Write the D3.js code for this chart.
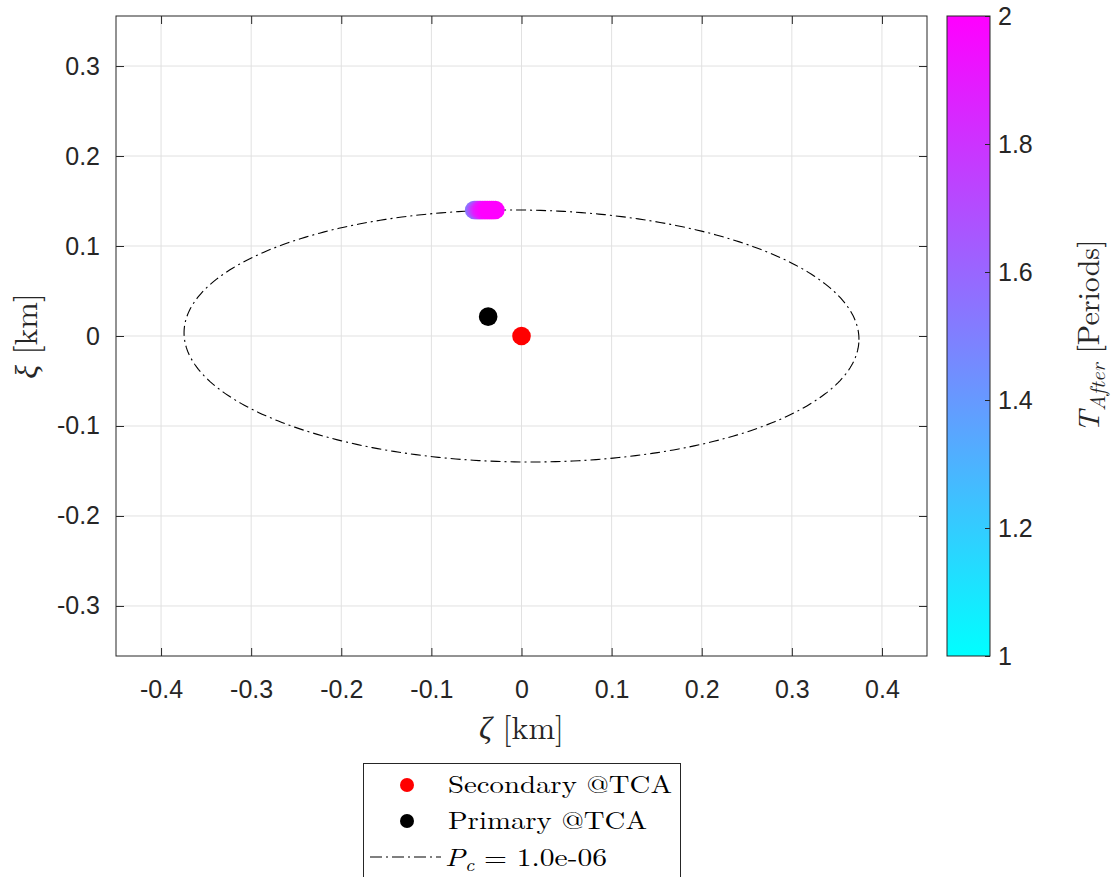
<!DOCTYPE html>
<html>
<head>
<meta charset="utf-8">
<script src="https://cdn.jsdelivr.net/npm/d3@7"></script>
<style>
  html, body { margin: 0; padding: 0; background: #fff; }
  svg { display: block; }
  .tick text { font-family: "Liberation Sans", Arial, sans-serif; }
</style>
</head>
<body>
<svg id="chart" width="1117" height="877"></svg>
<script>
// ---- data ----
const xTicks = [-0.4, -0.3, -0.2, -0.1, 0, 0.1, 0.2, 0.3, 0.4];
const yTicks = [-0.3, -0.2, -0.1, 0, 0.1, 0.2, 0.3];
const cbTicks = [1, 1.2, 1.4, 1.6, 1.8, 2];

// secondary and primary positions at TCA [km]
const secondary = [0, 0];
const primary = [-0.037, 0.0215];

// encounter positions after manoeuvre, coloured by time after (periods)
const afterZeta = [-0.0525, -0.0505, -0.0487, -0.0470, -0.0452, -0.0435, -0.0415, -0.0395, -0.0375, -0.0355, -0.0335, -0.0315, -0.0290];
const afterXi   = [0.1400, 0.1400, 0.1400, 0.1400, 0.1400, 0.1400, 0.1400, 0.1400, 0.1400, 0.1400, 0.1400, 0.1400, 0.1400];
const afterT    = [1.55, 1.63, 1.71, 1.79, 1.86, 1.91, 1.95, 1.97, 1.99, 2.0, 2.0, 2.0, 2.0];

// Pc = 1e-6 contour: ellipse semi-axes [km] and tilt [rad]
const contourSemiMajor = 0.3745;
const contourSemiMinor = 0.1400;
const contourTilt = -0.011;
const contourCenter = [0, 0];

// ---- layout ----
const svg = d3.select("#chart");
const plot = { left: 116, right: 927, top: 16, bottom: 656 };
const x = d3.scaleLinear().domain([-0.45, 0.45]).range([plot.left, plot.right]);
const y = d3.scaleLinear().domain([-0.3556, 0.3556]).range([plot.bottom, plot.top]);
const color = d3.scaleLinear().domain([1, 2]).range(["#00ffff", "#ff00ff"]);

const axisColor = "#262626";
const gridColor = "#e1e1e1";
const tickFont = "25px";

// grid
const grid = svg.append("g");
grid.selectAll("line.vx").data(xTicks).join("line")
  .attr("x1", d => x(d)).attr("x2", d => x(d))
  .attr("y1", plot.top).attr("y2", plot.bottom)
  .attr("stroke", gridColor).attr("stroke-width", 1);
grid.selectAll("line.hy").data(yTicks).join("line")
  .attr("x1", plot.left).attr("x2", plot.right)
  .attr("y1", d => y(d)).attr("y2", d => y(d))
  .attr("stroke", gridColor).attr("stroke-width", 1);

// axes (ticks point inwards)
const fmt = d => d === 0 ? "0" : d3.format(".1f")(d).replace("−", "-");
const xAxis = svg.append("g").attr("transform", `translate(0,${plot.bottom})`)
  .call(d3.axisBottom(x).tickValues(xTicks).tickFormat(fmt).tickSizeInner(-8).tickSizeOuter(0).tickPadding(24));
const xAxisTop = svg.append("g").attr("transform", `translate(0,${plot.top})`)
  .call(d3.axisTop(x).tickValues(xTicks).tickFormat("").tickSizeInner(-8).tickSizeOuter(0));
const yAxis = svg.append("g").attr("transform", `translate(${plot.left},0)`)
  .call(d3.axisLeft(y).tickValues(yTicks).tickFormat(fmt).tickSizeInner(-8).tickSizeOuter(0).tickPadding(16));
const yAxisRight = svg.append("g").attr("transform", `translate(${plot.right},0)`)
  .call(d3.axisRight(y).tickValues(yTicks).tickFormat("").tickSizeInner(-8).tickSizeOuter(0));
[xAxis, xAxisTop, yAxis, yAxisRight].forEach(g => {
  g.select(".domain").remove();
  g.selectAll(".tick line").attr("stroke", axisColor);
  g.selectAll(".tick text").attr("fill", axisColor).style("font-size", tickFont);
});

// contour ellipse
const nPts = 361;
const ellipse = d3.range(nPts).map(i => {
  const t = 2 * Math.PI * i / (nPts - 1);
  const ex = contourSemiMajor * Math.cos(t), ey = contourSemiMinor * Math.sin(t);
  return [
    contourCenter[0] + ex * Math.cos(contourTilt) - ey * Math.sin(contourTilt),
    contourCenter[1] + ex * Math.sin(contourTilt) + ey * Math.cos(contourTilt)
  ];
});
const dashDot = "10,4,2,4";
svg.append("path")
  .datum(ellipse)
  .attr("d", d3.line().x(d => x(d[0])).y(d => y(d[1])))
  .attr("fill", "none").attr("stroke", "#000").attr("stroke-width", 1.1)
  .attr("stroke-dasharray", dashDot);

// markers
const markerR = 9.3;
svg.append("g").selectAll("circle").data(d3.range(afterT.length)).join("circle")
  .attr("cx", i => x(afterZeta[i])).attr("cy", i => y(afterXi[i]))
  .attr("r", markerR).attr("fill", i => color(afterT[i]));
svg.append("circle").attr("cx", x(primary[0])).attr("cy", y(primary[1])).attr("r", markerR).attr("fill", "#000");
svg.append("circle").attr("cx", x(secondary[0])).attr("cy", y(secondary[1])).attr("r", markerR).attr("fill", "#ff0000");

// box
svg.append("rect")
  .attr("x", plot.left).attr("y", plot.top)
  .attr("width", plot.right - plot.left).attr("height", plot.bottom - plot.top)
  .attr("fill", "none").attr("stroke", axisColor).attr("stroke-width", 1);

// axis labels
const serif = "'Latin Modern Roman', 'CMU Serif', 'Liberation Serif', 'DejaVu Serif', serif";
const xl = svg.append("text").attr("x", x(0)).attr("y", 739)
  .attr("text-anchor", "middle").attr("font-family", serif).attr("font-size", 32).attr("fill", "#262626");
xl.append("tspan").attr("font-style", "italic").text("ζ");
xl.append("tspan").text(" [km]");

const yl = svg.append("text").attr("transform", `translate(37,${y(0)}) rotate(-90)`)
  .attr("text-anchor", "middle").attr("font-family", serif).attr("font-size", 32).attr("fill", "#262626");
yl.append("tspan").attr("font-style", "italic").text("ξ");
yl.append("tspan").text(" [km]");

// colorbar
const cb = { left: 947, right: 990, top: 16, bottom: 656 };
const cy = d3.scaleLinear().domain([1, 2]).range([cb.bottom, cb.top]);
const defs = svg.append("defs");
const grad = defs.append("linearGradient").attr("id", "cbGrad")
  .attr("x1", 0).attr("y1", 1).attr("x2", 0).attr("y2", 0);
grad.append("stop").attr("offset", 0).attr("stop-color", color(1));
grad.append("stop").attr("offset", 1).attr("stop-color", color(2));
svg.append("rect").attr("x", cb.left).attr("y", cb.top)
  .attr("width", cb.right - cb.left).attr("height", cb.bottom - cb.top)
  .attr("fill", "url(#cbGrad)").attr("stroke", axisColor).attr("stroke-width", 1);
const cbAxis = svg.append("g").attr("transform", `translate(${cb.right},0)`)
  .call(d3.axisRight(cy).tickValues(cbTicks).tickFormat(d => d3.format("")(+d.toFixed(1))).tickSizeInner(-5).tickSizeOuter(0).tickPadding(8));
cbAxis.select(".domain").remove();
cbAxis.selectAll(".tick line").attr("stroke", axisColor);
cbAxis.selectAll(".tick text").attr("fill", axisColor).style("font-size", tickFont);

const cl = svg.append("text").attr("transform", `translate(1099,${cy(1.5)}) rotate(-90)`)
  .attr("text-anchor", "middle").attr("font-family", serif).attr("font-size", 30).attr("fill", "#262626");
cl.append("tspan").attr("font-style", "italic").text("T");
cl.append("tspan").attr("font-style", "italic").attr("font-size", 21).attr("dy", 6).text("After");
cl.append("tspan").attr("dy", -6).text(" [Periods]");

// legend
const lg = svg.append("g");
lg.append("rect").attr("x", 363.5).attr("y", 763.5).attr("width", 317).attr("height", 130)
  .attr("fill", "#fff").attr("stroke", axisColor).attr("stroke-width", 1);
const legendRows = [
  { fill: "#ff0000", label: "Secondary @TCA", yy: 785, len: 224 },
  { fill: "#000000", label: "Primary @TCA", yy: 821, len: 199 },
];
legendRows.forEach(r => {
  lg.append("circle").attr("cx", 407).attr("cy", r.yy).attr("r", 7).attr("fill", r.fill);
  lg.append("text").attr("x", 448).attr("y", r.yy + 8)
    .attr("font-family", serif).attr("font-size", 25).attr("fill", "#000")
    .attr("textLength", r.len).attr("lengthAdjust", "spacingAndGlyphs").text(r.label);
});
lg.append("line").attr("x1", 370).attr("x2", 441).attr("y1", 857).attr("y2", 857)
  .attr("stroke", "#000").attr("stroke-width", 1.1).attr("stroke-dasharray", "12,4,2,4");
const pc = lg.append("text").attr("x", 445).attr("y", 866)
  .attr("font-family", serif).attr("font-size", 25).attr("fill", "#000")
  .attr("textLength", 162).attr("lengthAdjust", "spacingAndGlyphs");
pc.append("tspan").attr("font-style", "italic").text("P");
pc.append("tspan").attr("font-style", "italic").attr("font-size", 17).attr("dy", 5).text("c");
pc.append("tspan").attr("dy", -5).text(" = 1.0e-06");
</script>
</body>
</html>
